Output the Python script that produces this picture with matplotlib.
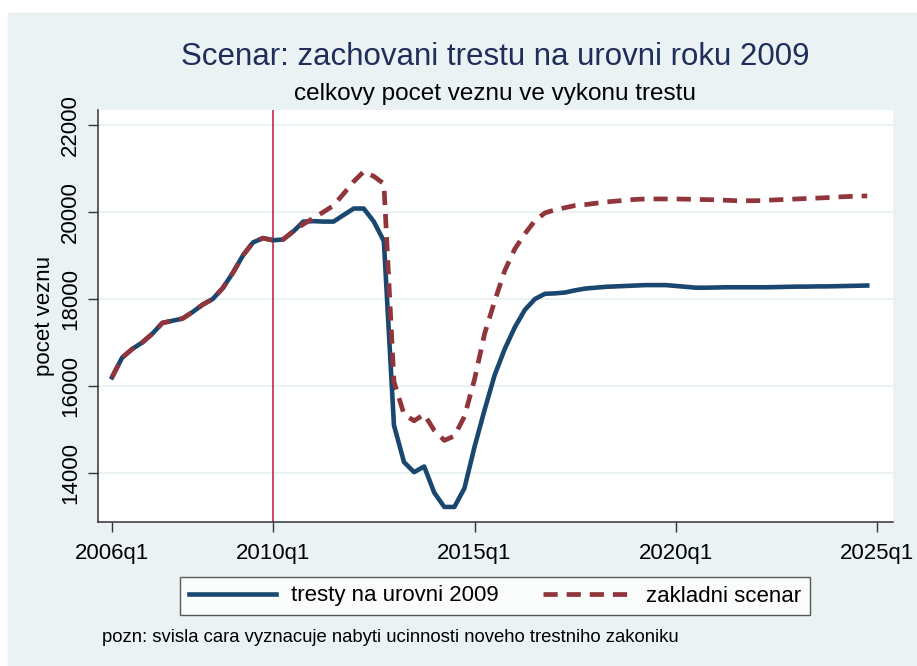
import numpy as np
import matplotlib
matplotlib.use("Agg")
import matplotlib.pyplot as plt
from matplotlib.patches import Rectangle

plt.rcParams["font.family"] = ["Liberation Sans", "DejaVu Sans"]

# ── Data (quarterly, 2006q1 .. 2024q4) ───────────────────────────────────────
start_year = 2006
tresty_2009 = [
    16200, 16650, 16850, 17000, 17200, 17450, 17500, 17550, 17700, 17870,
    18000, 18250, 18600, 19000, 19300, 19400, 19350, 19370, 19550, 19780,
    19790, 19780, 19780, 19930, 20080, 20080, 19780, 19330, 15100, 14250,
    14020, 14150, 13550, 13220, 13220, 13650, 14600, 15450, 16250, 16850,
    17350, 17750, 18000, 18120, 18130, 18150, 18200, 18240, 18260, 18280,
    18290, 18300, 18310, 18320, 18320, 18320, 18300, 18280, 18260, 18260,
    18265, 18270, 18270, 18270, 18270, 18270, 18275, 18280, 18285, 18285,
    18290, 18290, 18295, 18300, 18305, 18310,
]
zakladni = [
    16200, 16650, 16850, 17000, 17200, 17450, 17500, 17550, 17700, 17870,
    18000, 18250, 18600, 19000, 19300, 19400, 19350, 19370, 19560, 19720,
    19860, 20000, 20150, 20420, 20700, 20930, 20820, 20650, 16100, 15350,
    15200, 15350, 14980, 14750, 14850, 15300, 16150, 17200, 17950, 18650,
    19150, 19500, 19800, 19980, 20050, 20100, 20150, 20170, 20200, 20230,
    20250, 20270, 20290, 20300, 20300, 20300, 20300, 20295, 20290, 20285,
    20280, 20270, 20260, 20260, 20260, 20270, 20280, 20290, 20300, 20310,
    20320, 20330, 20345, 20355, 20365, 20370,
]
xtick_labels = ["2006q1", "2010q1", "2015q1", "2020q1", "2025q1"]
ytick_values = [14000, 16000, 18000, 20000, 22000]
reform_label = "2010q1"

NAVY = "#1a476f"
MAROON = "#90353b"
BG = "#eaf2f3"


def q_index(label):
    y, q = label.split("q")
    return (int(y) - start_year) * 4 + int(q) - 1


x = np.arange(len(tresty_2009))

fig = plt.figure(figsize=(9.17, 6.66), dpi=100, facecolor="white")
fig.patches.append(Rectangle((8 / 917, 0), 1, 1 - 13 / 666,
                             transform=fig.transFigure, color=BG, zorder=-10))

ax = fig.add_axes([98 / 917, 1 - 522 / 666, (893 - 98) / 917, (522 - 110) / 666])
ax.set_facecolor("white")

ax.plot(x, tresty_2009, color=NAVY, linewidth=3.3, solid_joinstyle="round",
        label="tresty na urovni 2009", zorder=3)
ax.plot(x, zakladni, color=MAROON, linewidth=3.4, linestyle=(0, (3.0, 1.9)),
        label="zakladni scenar", zorder=4)
ax.axvline(q_index(reform_label), color="#c0143c", linewidth=1.1, zorder=2)

ax.set_xlim(-1.39, 77.56)
ax.set_ylim(12874, 22345)
ax.set_xticks([q_index(l) for l in xtick_labels])
ax.set_xticklabels(xtick_labels)
ax.set_yticks(ytick_values)
ax.set_yticklabels([str(v) for v in ytick_values], rotation=90, va="center")
ax.grid(axis="y", color=BG, linewidth=1.5)
ax.set_axisbelow(True)
for s in ["top", "right"]:
    ax.spines[s].set_visible(False)
for s in ["left", "bottom"]:
    ax.spines[s].set_color("#333333")
    ax.spines[s].set_linewidth(1.1)
ax.tick_params(axis="both", length=7, width=1.0, color="#333333", labelsize=16)
ax.tick_params(axis="x", pad=8)
ax.tick_params(axis="y", pad=5)
ax.set_ylabel("pocet veznu", fontsize=16, labelpad=4)

fig.text(495 / 917, 1 - 57 / 666, "Scenar: zachovani trestu na urovni roku 2009",
         ha="center", va="center", fontsize=22.5, color="#1e2d5a")
fig.text(495 / 917, 1 - 94 / 666, "celkovy pocet veznu ve vykonu trestu",
         ha="center", va="center", fontsize=17.5, color="black")

leg = fig.legend(loc="center", bbox_to_anchor=(495 / 917, 1 - 596 / 666), ncol=2,
                 fontsize=16, handlelength=3.9, handletextpad=0.7,
                 columnspacing=2.0, borderpad=0.4, frameon=True, fancybox=False)
leg.get_frame().set_edgecolor("#333333")
leg.get_frame().set_linewidth(1.0)

fig.text(102 / 917, 1 - 637 / 666,
         "pozn: svisla cara vyznacuje nabyti ucinnosti noveho trestniho zakoniku",
         ha="left", va="center", fontsize=13.3, color="black")

fig.savefig("out.png", dpi=100, facecolor=fig.get_facecolor())
